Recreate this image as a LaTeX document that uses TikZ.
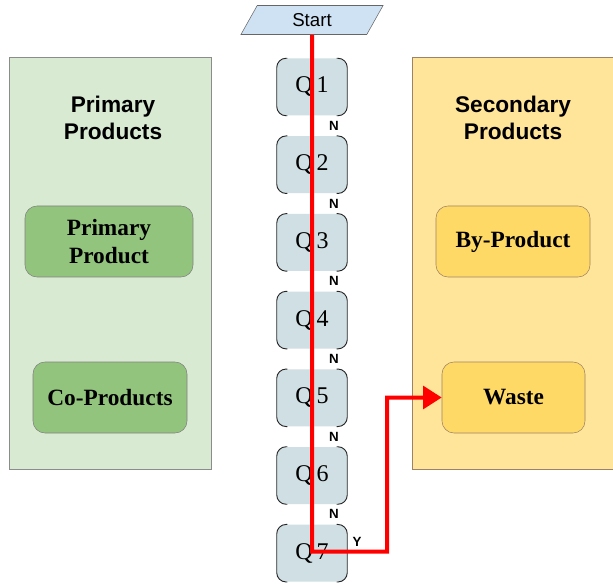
\documentclass[tikz,border=0pt]{standalone}
\usepackage{fontspec}
\setmainfont{Liberation Serif}
\setsansfont{Liberation Sans}
\usepackage{tikz}
\usetikzlibrary{shapes.geometric,arrows.meta,positioning,calc}
\definecolor{panelgreen}{HTML}{D9EAD3}
\definecolor{panelyellow}{HTML}{FFE599}
\definecolor{prodgreen}{HTML}{93C47D}
\definecolor{prodyellow}{HTML}{FFD966}
\definecolor{qgray}{HTML}{D0DFE3}
\definecolor{startblue}{HTML}{CFE2F3}
\tikzset{
    panelG/.style={rectangle, draw=black!45, fill=panelgreen, minimum width=151.5pt, minimum height=309pt},
    panelY/.style={rectangle, draw=brown!60!black!70, fill=panelyellow, minimum width=154.5pt, minimum height=309pt},
    title/.style={font=\sffamily\bfseries\fontsize{17}{20.5}\selectfont, align=center},
    prodG/.style={rectangle, rounded corners=9pt, draw=black!50, fill=prodgreen, minimum height=53.25pt, font=\bfseries\fontsize{17.5}{21}\selectfont, align=center},
    prodY/.style={rectangle, rounded corners=9pt, draw=brown!60!black!70, fill=prodyellow, minimum height=53.25pt, font=\bfseries\fontsize{17.5}{21}\selectfont, align=center},
    qbox/.style={rectangle, rounded corners=7pt, fill=qgray, minimum width=52.5pt, minimum height=42.75pt, font=\fontsize{18}{20}\selectfont},
    qside/.style={line width=0.7pt, black!85, rounded corners=7pt},
    startbox/.style={trapezium, trapezium left angle=72, trapezium right angle=108, trapezium stretches=true, draw=black!60, fill=startblue, minimum width=107pt, minimum height=21.75pt, font=\sffamily\fontsize{14}{16}\selectfont},
    flow/.style={line width=3pt, red},
    answer/.style={font=\sffamily\bfseries\fontsize{10}{12}\selectfont},
}
\begin{document}
\begin{tikzpicture}[x=0.75pt, y=-0.75pt]
    \useasboundingbox (0,0) rectangle (613,584);
    % side panels
    \node[panelG] (primary) at (110,263) {};
    \node[panelY] (secondary) at (515,263) {};
    \node[title] (primtitle) at (113,118) {Primary\\Products};
    \node[title] (sectitle) at (513,118) {Secondary\\Products};
    \node[prodG, minimum width=126pt] (primprod) at (109,241.5) {Primary\\Product};
    \node[prodG, minimum width=115.5pt] (coprod) at (110,397.5) {Co-Products};
    \node[prodY, minimum width=115.5pt] (byprod) at (513,241.5) {By-Product};
    \node[prodY, minimum width=107.25pt] (waste) at (513.5,397.5) {Waste};
    % questions
    \node[startbox] (start) at (312,20) {Start};
    \foreach \n in {1,...,7} {
        \node[qbox] (Q\n) at (312,{87+77.7*(\n-1)}) {Q\,\n};
        \draw[qside] ([xshift=8pt]Q\n.north west) -- (Q\n.north west) -- (Q\n.south west) -- ([xshift=8pt]Q\n.south west);
        \draw[qside] ([xshift=-8pt]Q\n.north east) -- (Q\n.north east) -- (Q\n.south east) -- ([xshift=-8pt]Q\n.south east);
    }
    \foreach \n [evaluate=\n as \m using int(\n+1)] in {1,...,6} {
        \node[answer] (N\n) at ($(Q\n.south)!0.5!(Q\m.north)+(16.5pt,0)$) {N};
    }
    % decision path
    \coordinate (turn) at ($(Q7.center)+(0,-1.5)$);
    \coordinate (yes) at ($(turn)+(75,0)$);
    \draw[flow, -{Triangle[length=14pt, width=17pt]}] (start.south) -- (turn) -- (yes) |- (waste.west);
    \node[answer] at ($(yes)+(-30,-10)$) {Y};
\end{tikzpicture}
\end{document}
